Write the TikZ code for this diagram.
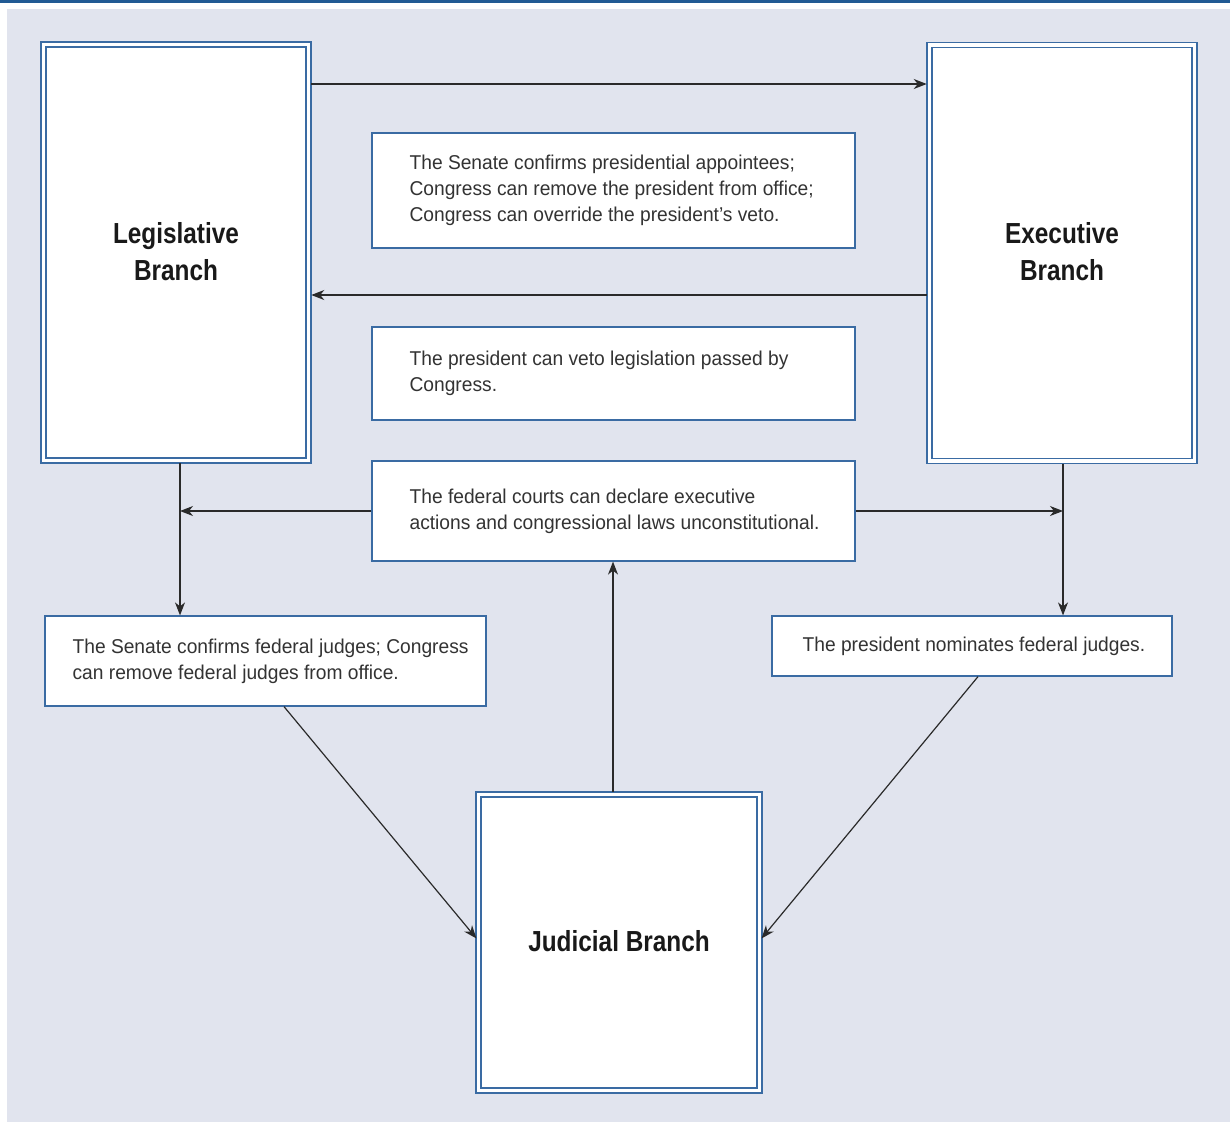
\documentclass[tikz,border=0pt]{standalone}
\usepackage{fontspec}
\setmainfont[FakeStretch=0.96]{Liberation Sans}
\newfontfamily\titlefont[FakeStretch=0.84]{Liberation Sans Bold}
\usetikzlibrary{arrows.meta,calc}
\definecolor{bgc}{HTML}{E1E4EE}
\definecolor{barc}{HTML}{215A94}
\definecolor{bordc}{HTML}{3A6BA3}
\definecolor{txtc}{HTML}{333333}
\definecolor{arrc}{HTML}{2A2A2A}
\tikzset{
  branch/.style={draw=bordc, line width=1.5pt, double=white, double distance=3.2pt, fill=white, rectangle, inner sep=0pt},
  infobox/.style={draw=bordc, line width=1.2pt, fill=white, rectangle, inner sep=0pt},
  infotext/.style={anchor=west, align=left, inner sep=0pt, text=txtc, font=\fontsize{20}{26}\selectfont},
  titletext/.style={align=center, inner sep=0pt, text={black!90}, font=\titlefont\fontsize{29}{37}\selectfont},
  arr/.style={draw=arrc, line width=1.2pt, -{Stealth[length=13pt,width=10pt,inset=4pt]}}
}
\begin{document}
\begin{tikzpicture}[x=1pt,y=-1pt]
\useasboundingbox (0,0) rectangle (1230,1122);
\fill[white] (0,0) rectangle (1230,1122);
\fill[barc] (0,0) rectangle (1230,3);
\fill[bgc] (7,9) rectangle (1230,1122);

% branches
\node[branch, minimum width=265pt, minimum height=416pt] (leg) at (176,252.5) {};
\node[branch, minimum width=265pt, minimum height=416pt] (exec) at (1062,253) {};
\node[branch, minimum width=281pt, minimum height=296pt] (jud) at (619,942.5) {};
\node[titletext] (legt) at (176,252) {Legislative\\Branch};
\node[titletext] (exect) at (1062,252) {Executive\\Branch};
\node[titletext] (judt) at (619,941) {Judicial Branch};

% info boxes
\node[infobox, minimum width=483pt, minimum height=115pt] (box1) at (613.5,190.5) {};
\node[infobox, minimum width=483pt, minimum height=93pt] (box2) at (613.5,373.5) {};
\node[infobox, minimum width=483pt, minimum height=100pt] (box3) at (613.5,511) {};
\node[infobox, minimum width=441pt, minimum height=90pt] (box4) at (265.5,661) {};
\node[infobox, minimum width=400pt, minimum height=60pt] (box5) at (972,646) {};

\node[infotext] (t1) at ($(box1.west)+(38,0)$) {The Senate confirms presidential appointees;\\Congress can remove the president from office;\\Congress can override the president’s veto.};
\node[infotext] (t2) at ($(box2.west)+(38,0)$) {The president can veto legislation passed by\\Congress.};
\node[infotext] (t3) at ($(box3.west)+(38,0)$) {The federal courts can declare executive\\actions and congressional laws unconstitutional.};
\node[infotext] (t4) at ($(box4.west)+(28,0)$) {The Senate confirms federal judges; Congress\\can remove federal judges from office.};
\node[infotext] (t5) at ($(box5.west)+(31,0)$) {The president nominates federal judges.};

% helper coordinates
\coordinate (yA) at (0,84);
\coordinate (yB) at (0,295);
\coordinate (xL) at (180,0);
\coordinate (xR) at (1063,0);
\coordinate (xJ) at (613,0);
\coordinate (x4) at (284,0);
\coordinate (x5) at (978,0);
\coordinate (yJ) at (0,940);

% connectors
\draw[arr, shorten <=2pt, shorten >=2pt] (leg.east |- yA) -- (exec.west |- yA);
\draw[arr, shorten <=2pt, shorten >=2pt] (exec.west |- yB) -- (leg.east |- yB);
\draw[arr, shorten <=2pt] (leg.south -| xL) -- (box4.north -| xL);
\draw[arr] (box3.west) -- (xL |- box3.west);
\draw[arr, shorten <=2pt] (exec.south -| xR) -- (box5.north -| xR);
\draw[arr] (box3.east) -- (xR |- box3.east);
\draw[arr, shorten <=2pt] (jud.north -| xJ) -- (box3.south -| xJ);
\draw[arr, shorten >=2pt] (box4.south -| x4) -- (jud.west |- yJ);
\draw[arr, shorten >=2pt] (box5.south -| x5) -- (jud.east |- yJ);
\end{tikzpicture}
\end{document}
